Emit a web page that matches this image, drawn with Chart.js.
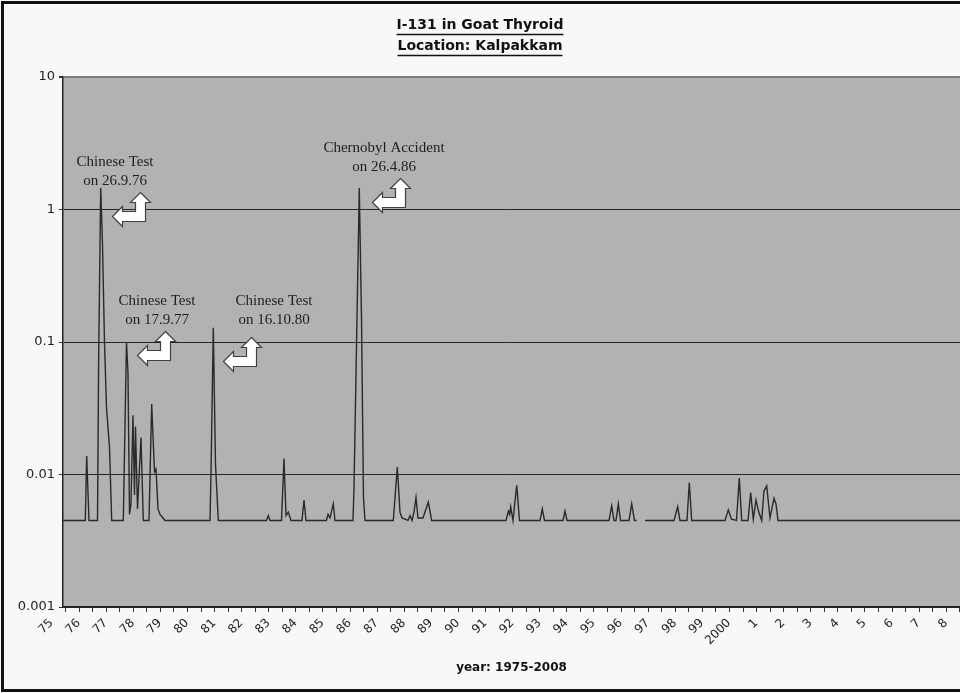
<!DOCTYPE html>
<html lang="en">
<head>
<meta charset="UTF-8" />
<title>I-131 in Goat Thyroid</title>
<style>
    html, body { margin: 0; padding: 0; background: #f8f8f8; overflow: hidden; }
    #wrap { width: 960px; height: 693px; }
</style>
</head>
<body>
<div id="wrap">
    <canvas id="myChart" width="960" height="693"></canvas>
</div>

<script src="https://cdn.jsdelivr.net/npm/chart.js"></script>
<script>
    // sampling time (decimal year) and I-131 in goat thyroid
    // 0.0045 is the flat baseline the plot shows between peaks
    const sampleYear = [
        1975.41, 1976.229, 1976.280, 1976.365, 1976.679, 1976.723, 1976.797, 1976.863,
        1976.937, 1977.011, 1977.122, 1977.203, 1977.631, 1977.749, 1977.804, 1977.860,
        1977.915, 1977.989, 1978.044, 1978.081, 1978.155, 1978.284, 1978.369, 1978.579,
        1978.679, 1978.782, 1978.838, 1978.911, 1978.985, 1979.059, 1979.170,
        1980.830, 1980.867, 1980.952, 1981.033, 1981.137,
        1982.915, 1982.982, 1983.044, 1983.469, 1983.561, 1983.635, 1983.720, 1983.819,
        1984.225, 1984.299, 1984.373, 1985.129, 1985.185, 1985.258, 1985.380, 1985.443,
        1986.107, 1986.144, 1986.229, 1986.339, 1986.421, 1986.494, 1986.550,
        1987.594, 1987.742, 1987.841, 1987.915, 1988.137, 1988.210, 1988.284, 1988.358,
        1988.432, 1988.506, 1988.690, 1988.886, 1989.011,
        1991.753, 1991.845, 1991.890, 1991.926, 1992.011, 1992.148, 1992.251,
        1993.007, 1993.092, 1993.173, 1993.856, 1993.930, 1994.004,
        1995.554, 1995.653, 1995.738, 1995.812, 1995.897, 1995.978,
        1996.292, 1996.391, 1996.494, 1996.576, 1996.730,
        1996.882, 1997.952, 1998.089, 1998.173, 1998.432, 1998.517, 1998.605,
        1999.834, 1999.956, 2000.074, 2000.258, 2000.362, 2000.450,
        2000.683, 2000.782, 2000.878, 2000.978, 2001.070, 2001.188,
        2001.273, 2001.373, 2001.494, 2001.642, 2001.716, 2001.790,
        2008.506
    ];
    const i131 = [
        0.0045, 0.0045, 0.0138, 0.0045, 0.0045, 0.08, 1.45, 0.55,
        0.1, 0.032, 0.016, 0.0045, 0.0045, 0.1, 0.058, 0.005,
        0.006, 0.028, 0.007, 0.023, 0.0055, 0.019, 0.0045, 0.0045,
        0.034, 0.0105, 0.011, 0.0055, 0.005, 0.0048, 0.0045,
        0.0045, 0.01, 0.128, 0.012, 0.0045,
        0.0045, 0.0049, 0.0045, 0.0045, 0.0132, 0.0049, 0.0052, 0.0045,
        0.0045, 0.0064, 0.0045, 0.0045, 0.005, 0.0047, 0.006, 0.0045,
        0.0045, 0.0078, 0.076, 1.45, 0.15, 0.0067, 0.0045,
        0.0045, 0.0114, 0.0052, 0.0047, 0.0045, 0.0049, 0.0045, 0.0052,
        0.0067, 0.0047, 0.0047, 0.0062, 0.0045,
        0.0045, 0.0053, 0.005, 0.0057, 0.0045, 0.0083, 0.0045,
        0.0045, 0.0055, 0.0045, 0.0045, 0.0053, 0.0045,
        0.0045, 0.0058, 0.0045, 0.0045, 0.006, 0.0045,
        0.0045, 0.006, 0.0045, 0.0045, null,
        0.0045, 0.0045, 0.0057, 0.0045, 0.0045, 0.0087, 0.0045,
        0.0045, 0.0054, 0.0046, 0.0045, 0.0094, 0.0045,
        0.0045, 0.0073, 0.0046, 0.0064, 0.0053, 0.0045,
        0.0075, 0.0082, 0.0047, 0.0066, 0.006, 0.0045,
        0.0045
    ];
    const yearLabels = [
        '75', '76', '77', '78', '79', '80', '81', '82', '83', '84', '85', '86',
        '87', '88', '89', '90', '91', '92', '93', '94', '95', '96', '97', '98',
        '99', '2000', '1', '2', '3', '4', '5', '6', '7', '8'
    ];
    const yTickValues = [0.001, 0.01, 0.1, 1, 10];
    const yTickLabels = ['0.001', '0.01', '0.1', '1', '10'];

    // text boxes + arrows, offsets from the top-left corner of the plot area
    const notes = [
        { lines: ['Chinese Test', 'on 26.9.76'], tx: 52, ty: 85, ax: 49, ay: 115 },
        { lines: ['Chinese Test', 'on 17.9.77'], tx: 94, ty: 224, ax: 74, ay: 254 },
        { lines: ['Chinese Test', 'on 16.10.80'], tx: 211, ty: 224, ax: 160, ay: 260 },
        { lines: ['Chernobyl Accident', 'on 26.4.86'], tx: 321, ty: 71, ax: 309, ay: 101 }
    ];
    // left-up block arrow outline
    const arrowShape = [[28, 0], [38, 10], [33, 10], [33, 29], [10, 29], [10, 34], [0, 24],
        [10, 14], [10, 19], [23, 19], [23, 10], [18, 10]];

    const framePlugin = {
        id: 'frame',
        beforeDraw(chart) {
            const { ctx, chartArea: a, width, height } = chart;
            ctx.save();
            ctx.fillStyle = '#f8f8f8';
            ctx.fillRect(0, 0, width, height);
            ctx.fillStyle = '#b2b2b2';
            ctx.fillRect(a.left, a.top, a.right - a.left, a.bottom - a.top);
            ctx.strokeStyle = '#111';
            ctx.lineWidth = 3;
            ctx.strokeRect(2.5, 2.5, width + 10, height - 5);
            ctx.restore();
        },
        afterDraw(chart) {
            const { ctx, chartArea: a } = chart;
            ctx.save();
            // underline the two title lines
            const tb = chart.titleBlock;
            const tf = Chart.helpers.toFont(tb.options.font);
            ctx.font = tf.string;
            ctx.strokeStyle = '#111';
            ctx.lineWidth = 1.5;
            tb.options.text.forEach((t, i) => {
                const w = ctx.measureText(t).width;
                const cy = tb.top + tb._padding.top + tf.lineHeight * (i + 0.5);
                const uy = Math.round(cy + tf.size * 0.62) + 0.5;
                const cx = (tb.left + tb.right) / 2;
                ctx.beginPath();
                ctx.moveTo(cx - w / 2, uy);
                ctx.lineTo(cx + w / 2, uy);
                ctx.stroke();
            });
            // annotations
            ctx.font = '15px "Liberation Serif"';
            ctx.textAlign = 'center';
            ctx.textBaseline = 'middle';
            notes.forEach(n => {
                ctx.fillStyle = '#1e1e1e';
                n.lines.forEach((t, i) => ctx.fillText(t, a.left + n.tx, a.top + n.ty + i * 19));
                ctx.beginPath();
                arrowShape.forEach(([px, py], i) => {
                    const x = a.left + n.ax + px + 0.5, y = a.top + n.ay + py + 0.5;
                    if (i === 0) ctx.moveTo(x, y); else ctx.lineTo(x, y);
                });
                ctx.closePath();
                ctx.fillStyle = '#ffffff';
                ctx.fill();
                ctx.strokeStyle = '#404040';
                ctx.lineWidth = 1.2;
                ctx.stroke();
            });
            ctx.restore();
        }
    };

    const ctx = document.querySelector('#myChart');
    const myChart = new Chart(ctx, {
        type: 'line',
        data: {
            datasets: [{
                label: 'I-131',
                data: sampleYear.map((t, i) => ({ x: t, y: i131[i] })),
                borderColor: '#2a2a2a',
                borderWidth: 1.4,
                pointRadius: 0,
                tension: 0,
                spanGaps: false
            }]
        },
        options: {
            responsive: false,
            animation: false,
            devicePixelRatio: 1,
            layout: { padding: { left: 0, right: 0, top: 0, bottom: 0 } },
            plugins: {
                legend: { display: false },
                tooltip: { enabled: false },
                title: {
                    display: true,
                    text: ['I-131 in Goat Thyroid', 'Location: Kalpakkam'],
                    color: '#111',
                    font: { family: 'DejaVu Sans', size: 14, weight: 'bold', lineHeight: 1.5 },
                    padding: { top: 15, bottom: 20 }
                }
            },
            scales: {
                x: {
                    type: 'linear',
                    min: 1975.406,
                    max: 2008.506,
                    afterBuildTicks(scale) {
                        const t = [];
                        for (let i = 0; i < yearLabels.length; i++) {
                            if (i > 0) t.push({ value: 1975 + i });
                            t.push({ value: 1975.5 + i });
                        }
                        scale.ticks = t;
                    },
                    afterFit(scale) {
                        scale.height = 86;
                        scale.paddingLeft = 0;
                        scale.paddingRight = 0;
                    },
                    ticks: {
                        autoSkip: false,
                        minRotation: 45,
                        maxRotation: 45,
                        labelOffset: -14,
                        padding: 4,
                        color: '#222',
                        font: { family: 'DejaVu Sans', size: 12 },
                        callback(value) {
                            const i = Math.round(value - 1975.5);
                            return Math.abs(value - 1975.5 - i) < 1e-6 ? yearLabels[i] : '';
                        }
                    },
                    grid: {
                        drawOnChartArea: false,
                        drawTicks: true,
                        tickLength: 5,
                        tickColor: '#333'
                    },
                    border: { display: true, color: '#222', width: 1.5 },
                    title: {
                        display: true,
                        text: 'year: 1975-2008',
                        color: '#111',
                        font: { family: 'DejaVu Sans', size: 12, weight: 'bold' },
                        padding: { top: 4, bottom: 18 }
                    }
                },
                y: {
                    type: 'logarithmic',
                    min: 0.001,
                    max: 10,
                    afterBuildTicks(scale) {
                        scale.ticks = yTickValues.map(v => ({ value: v }));
                    },
                    afterFit(scale) {
                        scale.width = 63;
                    },
                    ticks: {
                        color: '#222',
                        padding: 4,
                        font: { family: 'DejaVu Sans', size: 13 },
                        callback(value) {
                            const i = yTickValues.findIndex(v => Math.abs(v - value) / v < 1e-6);
                            return i >= 0 ? yTickLabels[i] : '';
                        }
                    },
                    grid: {
                        color(c) {
                            return c.tick && c.tick.value === 10 ? '#7d7d7d' : '#262626';
                        },
                        lineWidth(c) {
                            return c.tick && c.tick.value === 10 ? 2 : 1;
                        },
                        tickLength: 4,
                        tickColor: '#333'
                    },
                    border: { display: true, color: '#222', width: 1.5 }
                }
            }
        },
        plugins: [framePlugin]
    });
</script>
</body>
</html>
